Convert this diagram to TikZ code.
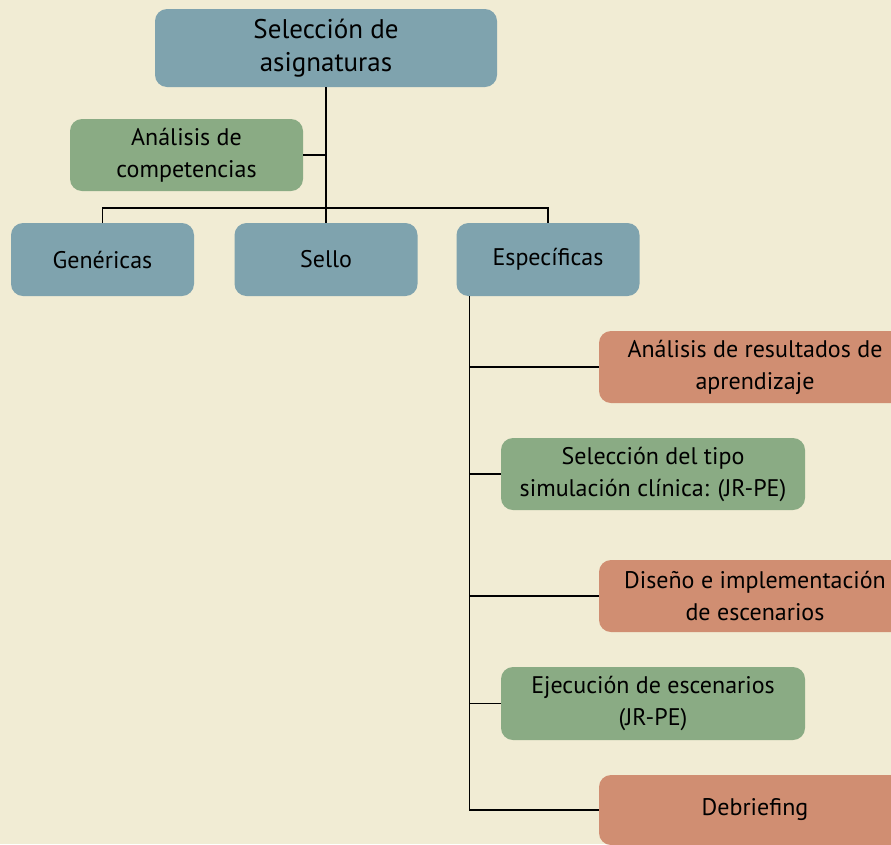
\documentclass[tikz,border=0pt]{standalone}
\usepackage{fontspec}
\setmainfont{PT Sans}
\usepackage{tikz}
\definecolor{ourcream}{HTML}{F1ECD4}
\definecolor{ourslate}{HTML}{7FA3AE}
\definecolor{oursage}{HTML}{8AAB84}
\definecolor{oursalmon}{HTML}{D08E72}

\begin{document}
\begin{tikzpicture}[x=1pt,y=-1pt]

  \tikzstyle{box}=[rounded corners=12pt, align=center, inner sep=0pt,
    font=\fontsize{24}{32}\selectfont, minimum height=73pt]
  \tikzstyle{slatebox}=[box, fill=ourslate, minimum width=183pt]
  \tikzstyle{sagebox}=[box, fill=oursage]
  \tikzstyle{salmonbox}=[box, fill=oursalmon, minimum width=312pt]
  \tikzstyle{link}=[draw=black, line width=1.3pt]

  \clip (0,0) rectangle (891,844);
  \fill[ourcream] (0,0) rectangle (891,844);

  \path
  (326,48) node[slatebox, minimum width=342pt, minimum height=78pt,
    font=\fontsize{27}{33}\selectfont](sel){Selección de\\asignaturas}
  (186.5,155) node[sagebox, minimum width=233pt, minimum height=72pt](comp){Análisis de\\competencias};

  \path
  (102.5,259.5) node[slatebox](gen){Genéricas}
  (326,259.5) node[slatebox](sello){Sello}
  (548,259.5) node[slatebox](esp){Específicas};

  \path
  (755,367) node[salmonbox, minimum height=72pt](res){Análisis de resultados de\\aprendizaje}
  (653,474) node[sagebox, minimum width=304pt, minimum height=72pt](tipo){Selección del tipo\\simulación clínica: (JR-PE)}
  (755,596) node[salmonbox, minimum height=72pt](dis){Diseño e implementación\\de escenarios}
  (653,703.5) node[sagebox, minimum width=304pt](ejec){Ejecución de escenarios\\(JR-PE)}
  (755,810) node[salmonbox, minimum height=70pt](deb){Debriefing};

  \coordinate (bar) at (326,208);
  \coordinate (trunk) at ([xshift=13pt]esp.south west);

  \draw[link] (sel.south)--(sello.north);
  \draw[link] (comp.east)--(comp.east -| sel.south);
  \draw[link] (gen.north)--(gen.north |- bar)--(esp.north |- bar)--(esp.north);

  \draw[link] (trunk)--(trunk |- deb.west)--(deb.west);
  \draw[link] (trunk |- res.west)--(res.west);
  \draw[link] (trunk |- tipo.west)--(tipo.west);
  \draw[link] (trunk |- dis.west)--(dis.west);
  \draw[link] (trunk |- ejec.west)--(ejec.west);
\end{tikzpicture}
\end{document}
